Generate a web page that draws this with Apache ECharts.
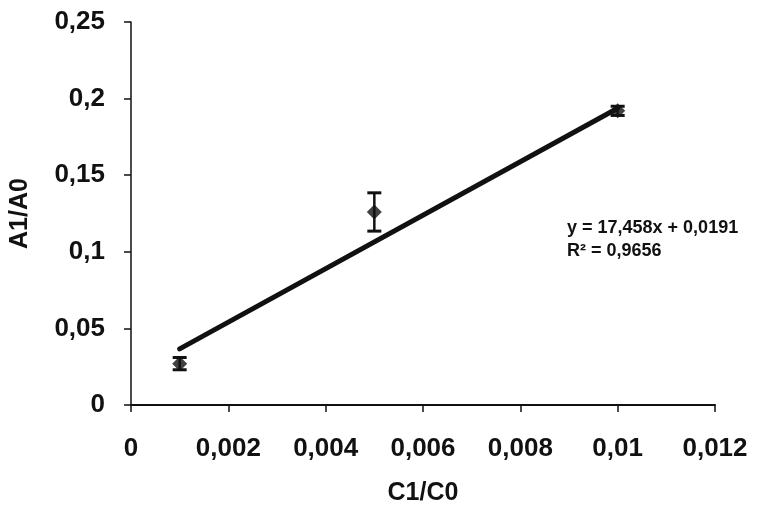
<!DOCTYPE html>
<html>
<head>
<meta charset="utf-8">
<script src="https://cdn.jsdelivr.net/npm/echarts@6/dist/echarts.min.js"></script>
<style>html,body{margin:0;padding:0;background:#fff;}#c{width:767px;height:511px;}</style>
</head>
<body>
<div id="c"></div>
<script>
var xValues = [0.001, 0.005, 0.01];
var yValues = [0.027, 0.126, 0.192];
var yErrors = [0.004, 0.0125, 0.003];
var trendX = [0.001, 0.01];
var trendY = [0.0366, 0.1937];
var xTicks = [0, 0.002, 0.004, 0.006, 0.008, 0.01, 0.012];
var yTicks = [0, 0.05, 0.1, 0.15, 0.2, 0.25];
var equationText = 'y = 17,458x + 0,0191';
var r2Text = 'R² = 0,9656';

var fmt = function (v) { return String(+v.toFixed(4)).replace('.', ','); };
var FONT = 'Liberation Sans';

var chart = echarts.init(document.getElementById('c'));
var points = xValues.map(function (x, i) { return [x, yValues[i]]; });
var errData = xValues.map(function (x, i) { return [x, yValues[i] - yErrors[i], yValues[i] + yErrors[i]]; });
var trend = trendX.map(function (x, i) { return [x, trendY[i]]; });

chart.setOption({
  animation: false,
  backgroundColor: '#fff',
  grid: { left: 129, right: 52, top: 22, bottom: 105, containLabel: false },
  xAxis: {
    type: 'value', min: xTicks[0], max: xTicks[xTicks.length - 1], interval: 0.002,
    name: 'C1/C0', nameLocation: 'middle', nameGap: 76,
    nameTextStyle: { fontFamily: FONT, fontSize: 25, fontWeight: 'bold', color: '#111' },
    axisLine: { onZero: false, lineStyle: { color: '#111', width: 2 } },
    axisTick: { show: true, inside: false, length: 7, lineStyle: { color: '#111', width: 1.5 } },
    axisLabel: { margin: 31, fontFamily: FONT, fontSize: 26, fontWeight: 'bold', color: '#111', formatter: fmt },
    splitLine: { show: false }
  },
  yAxis: {
    type: 'value', min: yTicks[0], max: yTicks[yTicks.length - 1], interval: 0.05,
    name: 'A1/A0', nameLocation: 'middle', nameGap: 98, nameRotate: 90,
    nameTextStyle: { fontFamily: FONT, fontSize: 25, fontWeight: 'bold', color: '#111' },
    axisLine: { show: true, onZero: false, lineStyle: { color: '#111', width: 1.5 } },
    axisTick: { show: true, inside: false, length: 7, lineStyle: { color: '#111', width: 1.5 } },
    axisLabel: { margin: 26, fontFamily: FONT, fontSize: 26, fontWeight: 'bold', color: '#111', formatter: fmt },
    splitLine: { show: false }
  },
  series: [
    {
      type: 'line', data: trend, symbol: 'none',
      lineStyle: { color: '#111', width: 5, cap: 'round' }, z: 2
    },
    {
      type: 'custom', z: 3,
      renderItem: function (params, api) {
        var x = api.value(0);
        var lo = api.coord([x, api.value(1)]);
        var hi = api.coord([x, api.value(2)]);
        var hw = 7;
        return {
          type: 'group',
          children: [
            { type: 'line', shape: { x1: lo[0], y1: lo[1], x2: hi[0], y2: hi[1] }, style: { stroke: '#111', lineWidth: 2.5 } },
            { type: 'line', shape: { x1: lo[0] - hw, y1: lo[1], x2: lo[0] + hw, y2: lo[1] }, style: { stroke: '#111', lineWidth: 3 } },
            { type: 'line', shape: { x1: hi[0] - hw, y1: hi[1], x2: hi[0] + hw, y2: hi[1] }, style: { stroke: '#111', lineWidth: 3 } }
          ]
        };
      },
      encode: { x: 0, y: [1, 2] },
      data: errData
    },
    {
      type: 'scatter', data: points, symbol: 'diamond', symbolSize: 15,
      itemStyle: { color: '#111' }, z: 4
    }
  ],
  graphic: [
    { type: 'text', left: 567, top: 219, style: { text: equationText, fontFamily: FONT, fontSize: 18, fontWeight: 'bold', fill: '#111' } },
    { type: 'text', left: 567, top: 242, style: { text: r2Text, fontFamily: FONT, fontSize: 18, fontWeight: 'bold', fill: '#111' } }
  ]
});
</script>
</body>
</html>
